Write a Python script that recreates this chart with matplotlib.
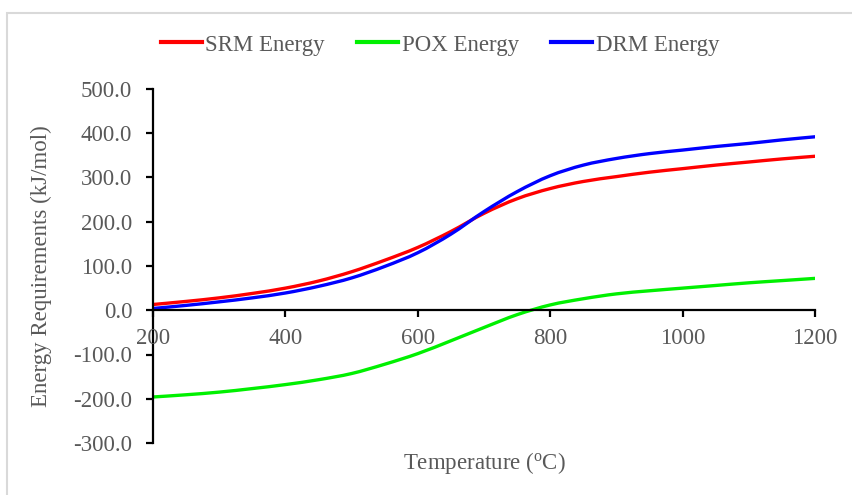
import numpy as np
import matplotlib
matplotlib.use("Agg")
import matplotlib.pyplot as plt
from matplotlib.patches import Rectangle, PathPatch
from matplotlib.path import Path
from matplotlib.lines import Line2D

# Energy requirement vs. temperature for the three reforming routes
temperature = [200, 250, 300, 350, 400, 450, 500, 550, 600, 650, 700,
               750, 800, 850, 900, 950, 1000, 1050, 1100, 1150, 1200]
srm_energy = [13, 20, 28, 38, 50, 66, 87, 113, 142, 178, 219,
              252, 275, 291, 302, 312, 320, 328, 335, 342, 348]
pox_energy = [-196, -191, -185, -177, -168, -157, -143, -122, -98, -69, -39,
              -10, 12, 26, 37, 44, 50, 56, 62, 67, 72]
drm_energy = [4, 11, 19, 28, 39, 54, 73, 99, 130, 172, 223,
              268, 304, 328, 343, 354, 362, 370, 377, 385, 392]

series = [("SRM Energy", srm_energy, "#FF0000"),
          ("POX Energy", pox_energy, "#00F000"),
          ("DRM Energy", drm_energy, "#0000FF")]

x_ticks = [200, 400, 600, 800, 1000, 1200]
y_ticks = [-300, -200, -100, 0, 100, 200, 300, 400, 500]


def smooth_path(xs, ys):
    """Bezier path through the points (Catmull-Rom style tangents)."""
    p = np.column_stack([xs, ys]).astype(float)
    n = len(p)
    verts = [p[0]]
    codes = [Path.MOVETO]
    for i in range(n - 1):
        p0 = p[i - 1] if i > 0 else p[i]
        p3 = p[i + 2] if i + 2 < n else p[i + 1]
        c1 = p[i] + (p[i + 1] - p0) / 6
        c2 = p[i + 1] - (p3 - p[i]) / 6
        verts += [c1, c2, p[i + 1]]
        codes += [Path.CURVE4] * 3
    return Path(verts, codes)


plt.rcParams["font.family"] = ["Liberation Serif", "DejaVu Serif"]
plt.rcParams["mathtext.fontset"] = "custom"
plt.rcParams["mathtext.rm"] = "Liberation Serif"
text_grey = "#595959"
fs = 16.5

W, H = 852, 495
fig = plt.figure(figsize=(W / 100, H / 100), dpi=100)
ax = fig.add_axes([153 / W, 1 - 443 / H, (815 - 153) / W, (443 - 89) / H])

# light frame around the chart area
fig.patches.append(Rectangle((7 / W, -0.2), 1.2, 1.2 - 13 / H, transform=fig.transFigure,
                             fill=False, edgecolor="#D9D9D9", linewidth=1.5))

handles = []
for name, values, color in series:
    ax.add_patch(PathPatch(smooth_path(temperature, values), fill=False,
                           edgecolor=color, lw=2.4, capstyle="round"))
    handles.append(Line2D([], [], color=color, lw=3, label=name))

ax.set_xlim(200, 1200)
ax.set_ylim(-300, 500)
ax.set_xticks(x_ticks)
ax.set_yticks(y_ticks)
ax.set_yticklabels([f"{v:.1f}" for v in y_ticks])

ax.spines["top"].set_visible(False)
ax.spines["right"].set_visible(False)
ax.spines["bottom"].set_position(("data", 0))
for s in ("left", "bottom"):
    ax.spines[s].set_linewidth(1.6)
    ax.spines[s].set_color("black")
    ax.spines[s].set_zorder(1)

ax.tick_params(axis="both", direction="out", length=5, width=1.6,
               colors="black", labelcolor=text_grey, labelsize=fs)
ax.tick_params(axis="y", pad=10)
ax.tick_params(axis="x", pad=8)

ax.set_xlabel(r"Temperature ($\mathregular{^{o}}$C)", fontsize=fs, color=text_grey)
ax.xaxis.set_label_coords(0.5, -0.02)
ax.set_ylabel("Energy Requirements (kJ/mol)", fontsize=fs, color=text_grey)
ax.yaxis.set_label_coords(-0.153, 0.5)

leg = fig.legend(handles=handles, loc="center", bbox_to_anchor=(440 / W, 1 - 45 / H),
                 ncol=3, frameon=False, fontsize=fs, handlelength=1.8,
                 handletextpad=0.15, columnspacing=1.4)
for t in leg.get_texts():
    t.set_color(text_grey)

fig.savefig("out.png", dpi=100, facecolor="white")
